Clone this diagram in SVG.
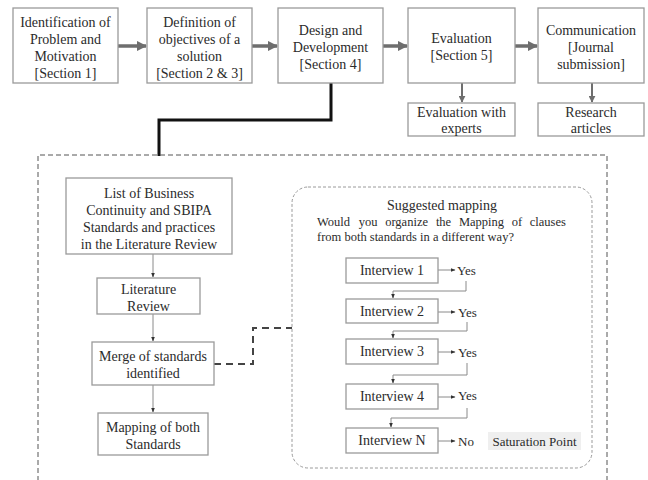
<svg xmlns="http://www.w3.org/2000/svg" width="648" height="480" viewBox="0 0 648 480">
<style>
text{font-family:'Liberation Serif','DejaVu Serif',serif;fill:#2b2b2b;font-size:14px;text-anchor:middle}
.box{fill:#fff;stroke:#9a9a9a;stroke-width:1.3}
.thick{stroke:#6e6e6e;stroke-width:3.5;fill:none}
.thin{stroke:#8a8a8a;stroke-width:1;fill:none}
.l{text-anchor:start}
.q{font-size:12.5px}
.s{font-size:13px}
</style>
<defs>
<marker id="big" viewBox="0 0 10 10" refX="9" refY="5" markerWidth="3" markerHeight="3" orient="auto" markerUnits="strokeWidth"><path d="M0,0 L10,5 L0,10 z" fill="#6e6e6e"/></marker>
<marker id="med" viewBox="0 0 10 10" refX="9" refY="5" markerWidth="3.5" markerHeight="3.5" orient="auto" markerUnits="strokeWidth"><path d="M0,0 L10,5 L0,10 z" fill="#6e6e6e"/></marker>
<marker id="sm" viewBox="0 0 10 10" refX="9" refY="5" markerWidth="5" markerHeight="5" orient="auto" markerUnits="strokeWidth"><path d="M0,1 L10,5 L0,9 z" fill="#333"/></marker>
</defs>

<g id="connectors">
<line class="thick" x1="118" y1="46" x2="146" y2="46" marker-end="url(#big)"/>
<line class="thick" x1="252" y1="46" x2="277" y2="46" marker-end="url(#big)"/>
<line class="thick" x1="383" y1="46" x2="407" y2="46" marker-end="url(#big)"/>
<line class="thick" x1="515" y1="46" x2="537" y2="46" marker-end="url(#big)"/>
<line stroke="#6e6e6e" stroke-width="2" x1="462" y1="83" x2="462" y2="102" marker-end="url(#med)"/>
<line stroke="#6e6e6e" stroke-width="2" x1="592" y1="83" x2="592" y2="102" marker-end="url(#med)"/>
<polyline points="331,83 331,120 159,120 159,156" fill="none" stroke="#111" stroke-width="3"/>
<line class="thin" x1="153" y1="254" x2="153" y2="277" marker-end="url(#sm)"/>
<line class="thin" x1="153" y1="314" x2="153" y2="341" marker-end="url(#sm)"/>
<line class="thin" x1="153" y1="385" x2="153" y2="412" marker-end="url(#sm)"/>
<polyline points="214,364 253,364 253,328 292,328" fill="none" stroke="#444" stroke-width="2" stroke-dasharray="7,5"/>
<line class="thin" x1="438" y1="270" x2="455" y2="270" marker-end="url(#sm)"/>
<line class="thin" x1="438" y1="312" x2="455" y2="312" marker-end="url(#sm)"/>
<line class="thin" x1="438" y1="352" x2="455" y2="352" marker-end="url(#sm)"/>
<line class="thin" x1="438" y1="397" x2="455" y2="397" marker-end="url(#sm)"/>
<line class="thin" x1="438" y1="441" x2="455" y2="441" marker-end="url(#sm)"/>
<polyline class="thin" points="466,281 466,291 393,291 393,298" marker-end="url(#sm)"/>
<polyline class="thin" points="467,322 467,331 393,331 393,338" marker-end="url(#sm)"/>
<polyline class="thin" points="467,363 467,375 393,375 393,383" marker-end="url(#sm)"/>
<polyline class="thin" points="467,408 467,418 391,418 391,427" marker-end="url(#sm)"/>
</g>

<g id="dashed-frame"><path d="M38,481 L38,155 L607,155 L607,481" fill="none" stroke="#555" stroke-width="1" stroke-dasharray="5,3"/></g>

<g id="n1"><rect class="box" x="13" y="8" width="105" height="75"/>
<text x="65.5" y="27">Identification of</text><text x="65.5" y="44">Problem and</text><text x="65.5" y="61">Motivation</text><text x="65.5" y="78">[Section 1]</text></g>
<g id="n2"><rect class="box" x="147" y="8" width="105" height="75"/>
<text x="199.5" y="27">Definition of</text><text x="199.5" y="44">objectives of a</text><text x="199.5" y="61">solution</text><text x="199.5" y="78">[Section 2 &amp; 3]</text></g>
<g id="n3"><rect class="box" x="278" y="8" width="105" height="75"/>
<text x="330.5" y="35">Design and</text><text x="330.5" y="52">Development</text><text x="330.5" y="69">[Section 4]</text></g>
<g id="n4"><rect class="box" x="408" y="8" width="107" height="75"/>
<text x="461.5" y="43">Evaluation</text><text x="461.5" y="60">[Section 5]</text></g>
<g id="n5"><rect class="box" x="538" y="8" width="106" height="75"/>
<text x="591" y="35">Communication</text><text x="591" y="52">[Journal</text><text x="591" y="69">submission]</text></g>
<g id="n6"><rect class="box" x="408" y="103" width="107" height="33"/>
<text x="461.5" y="117">Evaluation with</text><text x="461.5" y="133">experts</text></g>
<g id="n7"><rect class="box" x="538" y="103" width="106" height="33"/>
<text x="591" y="117">Research</text><text x="591" y="133">articles</text></g>

<g id="n8"><rect class="box" x="66" y="178" width="166" height="76"/>
<text x="149" y="198">List of Business</text><text x="149" y="215">Continuity and SBIPA</text><text x="149" y="232">Standards and practices</text><text x="149" y="249">in the Literature Review</text></g>
<g id="n9"><rect class="box" x="97" y="278" width="103" height="36"/>
<text x="148.5" y="294">Literature</text><text x="148.5" y="311">Review</text></g>
<g id="n10"><rect class="box" x="92" y="342" width="122" height="43"/>
<text x="153" y="361">Merge of standards</text><text x="153" y="378">identified</text></g>
<g id="n11"><rect class="box" x="98" y="413" width="110" height="42"/>
<text x="153" y="432">Mapping of both</text><text x="153" y="449">Standards</text></g>

<g id="n12"><rect x="292" y="187" width="300" height="281" rx="16" fill="none" stroke="#9a9a9a" stroke-width="1" stroke-dasharray="3,2"/>
<text x="442" y="210">Suggested mapping</text>
<text class="l q" y="226"><tspan x="317">Would</tspan><tspan x="358.7">you</tspan><tspan x="385.2">organize</tspan><tspan x="435.9">the</tspan><tspan x="458.9">Mapping</tspan><tspan x="511.7">of</tspan><tspan x="529.8">clauses</tspan></text>
<text class="l q" x="317" y="241">from both standards in a different way?</text></g>

<g id="i1"><rect class="box" x="346" y="258" width="92" height="25"/><text x="392" y="275">Interview 1</text></g>
<g id="i2"><rect class="box" x="346" y="299" width="92" height="24"/><text x="392" y="316">Interview 2</text></g>
<g id="i3"><rect class="box" x="346" y="339" width="92" height="25"/><text x="392" y="356">Interview 3</text></g>
<g id="i4"><rect class="box" x="346" y="384" width="92" height="25"/><text x="392" y="401">Interview 4</text></g>
<g id="i5"><rect class="box" x="346" y="428" width="92" height="25"/><text x="392" y="445">Interview N</text></g>
<g id="y1"><text class="l s" x="457" y="275">Yes</text></g>
<g id="y2"><text class="l s" x="458" y="317">Yes</text></g>
<g id="y3"><text class="l s" x="458" y="357">Yes</text></g>
<g id="y4"><text class="l s" x="458" y="400">Yes</text></g>
<g id="no"><text class="l s" x="458" y="446">No</text></g>
<g id="sat"><rect x="488" y="432" width="93" height="18" fill="#efefef"/><text class="s" x="534.5" y="446">Saturation Point</text></g>
</svg>
